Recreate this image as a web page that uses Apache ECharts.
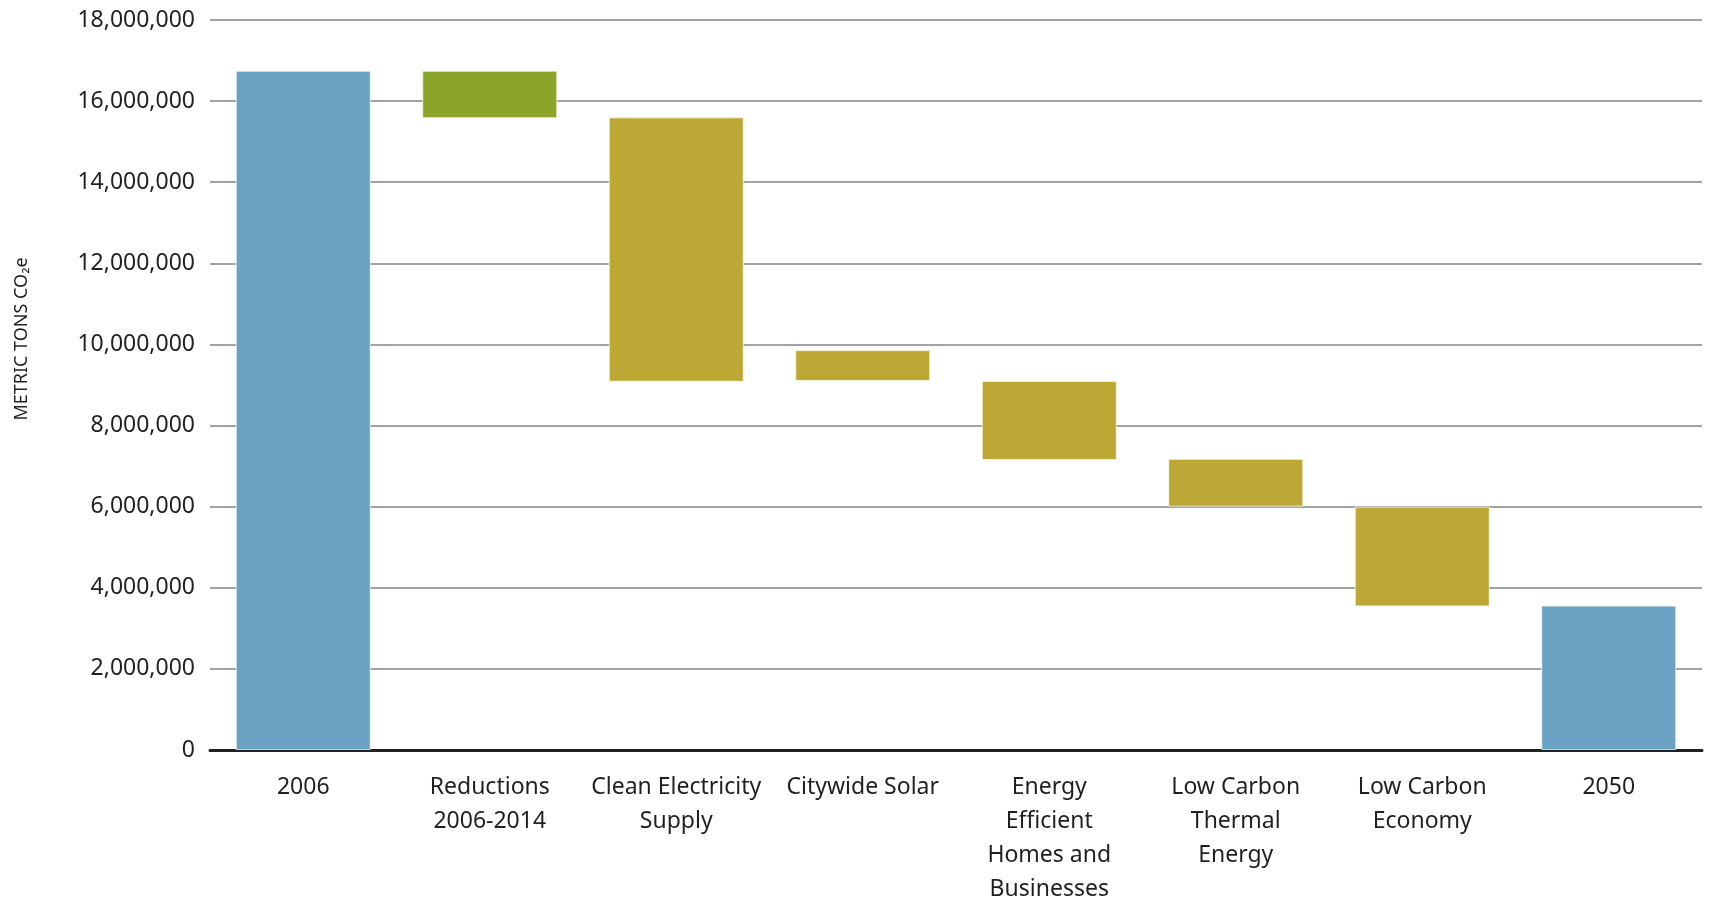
<!DOCTYPE html>
<html style="height: 100%">
<head>
    <meta charset="utf-8">
    <title>Emissions waterfall</title>
    <style>
        html, body { margin: 0; padding: 0; background: #fff; }
        #container { width: 1718px; height: 904px; }
    </style>
</head>
<body>
    <div id="container"></div>
    <script src="https://cdn.jsdelivr.net/npm/echarts@6/dist/echarts.min.js"></script>
    <script>
        // categories (x axis)
        var categories = ['2006', 'Reductions\n2006-2014', 'Clean Electricity\nSupply', 'Citywide Solar',
            'Energy\nEfficient\nHomes and\nBusinesses', 'Low Carbon\nThermal\nEnergy', 'Low Carbon\nEconomy', '2050'];
        // top and bottom of each bar, metric tons CO2e
        var barTop = [16750000, 16750000, 15600000, 9860000, 9100000, 7180000, 6000000, 3560000];
        var barBottom = [0, 15580000, 9080000, 9100000, 7150000, 6000000, 3540000, 0];
        // kind of bar: total / past reduction / planned reduction
        var kinds = ['total', 'past', 'plan', 'plan', 'plan', 'plan', 'plan', 'total'];
        var yTicks = [0, 2000000, 4000000, 6000000, 8000000, 10000000, 12000000, 14000000, 16000000, 18000000];

        var kindColor = { total: '#69a2c3', past: '#8ba52a', plan: '#bda836' };

        var baseData = [];
        var deltaData = [];
        for (var i = 0; i < categories.length; i++) {
            baseData.push(barBottom[i]);
            deltaData.push({
                value: barTop[i] - barBottom[i],
                itemStyle: { color: kindColor[kinds[i]] }
            });
        }

        var myChart = echarts.init(document.getElementById('container'));
        var option = {
            animation: false,
            grid: { left: 210, right: 16, top: 20, bottom: 154, outerBoundsMode: 'none' },
            xAxis: {
                type: 'category',
                data: categories,
                axisTick: { show: false },
                axisLine: { lineStyle: { color: '#222', width: 3 } },
                axisLabel: {
                    interval: 0,
                    margin: 20,
                    color: '#231f20',
                    fontFamily: 'Noto Sans',
                    fontSize: 23,
                    lineHeight: 34,
                    align: 'center'
                }
            },
            yAxis: {
                type: 'value',
                min: yTicks[0],
                max: yTicks[yTicks.length - 1],
                interval: 2000000,
                axisLine: { show: false },
                axisTick: { show: false },
                splitLine: { lineStyle: { color: '#a3a3a6', width: 2 } },
                axisLabel: {
                    margin: 15,
                    color: '#231f20',
                    fontFamily: 'Noto Sans',
                    fontSize: 23,
                    formatter: function (v) {
                        return v.toLocaleString('en-US');
                    }
                }
            },
            graphic: [{
                type: 'text',
                x: 22,
                y: 339,
                rotation: Math.PI / 2,
                style: {
                    text: 'METRIC TONS CO\u2082e',
                    fill: '#231f20',
                    font: '18px "Noto Sans"',
                    align: 'center',
                    verticalAlign: 'middle'
                }
            }],
            series: [{
                type: 'bar',
                stack: 'w',
                data: baseData,
                barWidth: 135,
                itemStyle: { color: 'rgba(0,0,0,0)' },
                silent: true
            }, {
                type: 'bar',
                stack: 'w',
                data: deltaData,
                barWidth: 135,
                itemStyle: { borderColor: 'rgba(255,255,240,0.7)', borderWidth: 1 }
            }]
        };
        myChart.setOption(option);
    </script>
</body>
</html>
